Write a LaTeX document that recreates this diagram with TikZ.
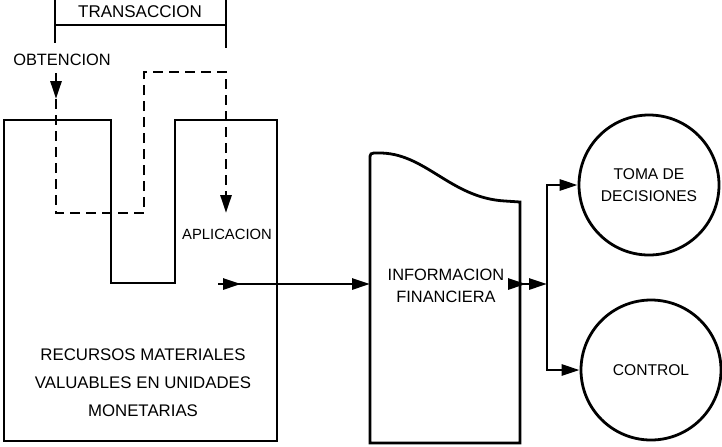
\documentclass[tikz,border=0pt]{standalone}
\usepackage{fontspec}
\setmainfont{Liberation Sans}
\usetikzlibrary{arrows.meta, positioning, calc}
\tikzset{
  lbl/.style={font=\fontsize{8.2}{11}\selectfont, align=center, inner sep=0pt},
  wall/.style={line width=1.4pt, line join=miter},
  arrow/.style={-{Triangle[length=9pt, width=5.5pt]}, line width=1.4pt},
  dasharrow/.style={arrow, dash pattern=on 5pt off 3pt},
  goal/.style={circle, draw, line width=1.4pt, minimum size=70pt, lbl,
               font=\fontsize{7.8}{11}\selectfont},
}

\begin{document}
\begin{tikzpicture}[x=0.5pt, y=-0.5pt]   %% pixel grid, y pointing down
  \useasboundingbox (0,0) rectangle (722,446);

  %% -- Recursos (U-shaped block) --------------------------------------------
  \draw[wall] (4,441) -- (4,120) -- (111,120) -- (111,283) -- (175,283)
              -- (175,120) -- (277,120) -- (277,441) -- cycle;
  \node[lbl, font=\fontsize{8.4}{14}\selectfont] (recursos) at (143,383)
       {RECURSOS MATERIALES\\VALUABLES EN UNIDADES\\MONETARIAS};

  %% -- Transaccion bracket --------------------------------------------------
  \draw[wall] (55,0) -- (55,43);
  \draw[wall] (226,0) -- (226,48);
  \draw[wall] (55,25) -- (226,25);
  \node[lbl, font=\fontsize{8.5}{11}\selectfont] (trans) at (140,12) {TRANSACCION};

  %% -- Obtencion / Aplicacion flow ------------------------------------------
  \node[lbl] (obt) at (62,60) {OBTENCION};
  \coordinate (obtTop) at (56,73);
  \coordinate (obtIn)  at (56,99);
  \coordinate (aplEnd) at (226,213);
  \draw[arrow] (obtTop) -- (obtIn);
  \draw[dasharrow] (obtIn) -- (56,213) -- (144,213) -- (144,72)
                   -- (226,72) -- (aplEnd);
  \node[lbl, font=\fontsize{7.4}{11}\selectfont] (apl) at (227,234) {APLICACION};

  %% -- Informacion financiera (document shape) ------------------------------
  \draw[wall] (370,443) -- (370,160) .. controls (370,153) .. (378,153)
              .. controls (425,152) and (450,198) .. (505,201)
              -- (520,202) -- (520,443) -- cycle;
  \node[lbl] (info) at (446,286) {INFORMACION\\FINANCIERA};
  \coordinate (infoW) at (370,284);
  \coordinate (infoE) at (520,284);

  %% -- Recursos -> Informacion ----------------------------------------------
  \coordinate (recOut) at (218,284);
  \draw[arrow] (recOut) -- ++(23,0);
  \draw[arrow] (recOut) -- (infoW);

  %% -- Uses of the information ----------------------------------------------
  \node[goal] (toma)    at (649,185) {TOMA DE\\DECISIONES};
  \node[goal] (control) at (651,370) {CONTROL};
  \coordinate (jmid) at (547,284);
  \draw[arrow] ($(infoE)+(-8,0)$) -- ($(infoE)+(6,0)$);
  \draw[arrow] (infoE) -- (jmid);
  \draw[arrow] (jmid) |- (toma.west);
  \draw[arrow] (jmid) |- (control.west);

\end{tikzpicture}
\end{document}
